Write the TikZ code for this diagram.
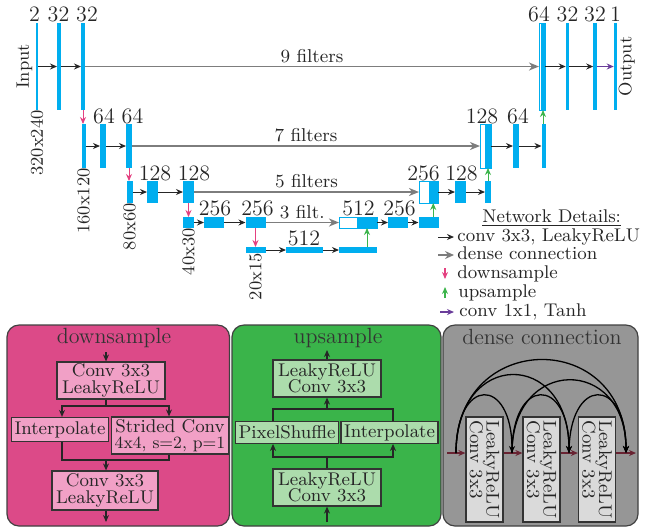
\documentclass[tikz,border=0pt]{standalone}
\usepackage{fontspec}
\usetikzlibrary{arrows.meta,calc}

\definecolor{barblue}{RGB}{0,174,239}
\definecolor{dnpink}{RGB}{228,64,128}
\definecolor{upgreen}{RGB}{60,180,75}
\definecolor{finpurple}{RGB}{106,61,154}
\definecolor{densegray}{RGB}{125,125,125}
\definecolor{dspanel}{RGB}{220,74,136}
\definecolor{dsbox}{RGB}{241,160,198}
\definecolor{uspanel}{RGB}{58,180,74}
\definecolor{usbox}{RGB}{172,220,172}
\definecolor{dcpanel}{RGB}{150,150,150}
\definecolor{dcbox}{RGB}{218,218,218}
\definecolor{dcline}{RGB}{105,35,50}

\newcommand\numfont{\fontsize{11}{13}\selectfont}
\newcommand\filtfont{\fontsize{9.3}{11}\selectfont}
\newcommand\dimfont{\fontsize{9}{11}\selectfont}
\newcommand\legfont{\fontsize{9.2}{11}\selectfont}
\newcommand\titlefont{\fontsize{11}{13}\selectfont}
\newcommand\blkfont{\fontsize{9.2}{8.3}\selectfont\lineskiplimit=-20pt}
\newcommand\smallblk{\fontsize{8.6}{8.3}\selectfont}

\begin{document}
\begin{tikzpicture}[x=0.5pt,y=-0.5pt,
  netbar/.style={fill=barblue,draw=none,inner sep=0pt,outer sep=0pt},
  catbox/.style={draw=barblue,fill=white,line width=0.5pt,inner sep=0pt,outer sep=0pt},
  L1/.style={minimum height=43.5pt},
  L2/.style={minimum height=22pt},
  L3/.style={minimum height=11pt},
  L4/.style={minimum height=5.5pt},
  L5/.style={minimum height=3pt},
  tip/.style={-{Stealth[length=3.5pt,width=3pt]}},
  convarrow/.style={tip,line width=0.5pt,black!85},
  densearrow/.style={-{Stealth[length=5pt,width=4pt,inset=1.5pt]},line width=0.8pt,densegray},
  dnarrow/.style={tip,line width=0.5pt,dnpink},
  uparrow/.style={tip,line width=0.5pt,upgreen},
  finarrow/.style={tip,line width=0.5pt,finpurple},
  numlbl/.style={font=\numfont,inner sep=0pt,anchor=base,text=black!85},
  filt/.style={font=\filtfont,inner sep=1.5pt,above,text=black!85},
  dims/.style={font=\dimfont,rotate=90,anchor=east,inner sep=1pt,text=black!85},
  leg/.style={font=\legfont,anchor=mid west,inner sep=0pt,text=black!85},
  panel/.style={draw=black!75,line width=0.6pt,rounded corners=6pt},
  ptitle/.style={font=\titlefont,text=black!80},
  blk/.style={draw=black!80,line width=0.6pt,font=\blkfont,align=center,
    inner xsep=1.5pt,inner ysep=0.5pt,text=black!85},
  flow/.style={tip,line width=0.6pt,black!85},
  wire/.style={line width=0.6pt,black!85},
  dcwire/.style={tip,line width=0.6pt,dcline},
  arcline/.style={tip,line width=0.65pt,black}
]
\useasboundingbox (0,0) rectangle (647,527);

% ---------------- level 1 (320x240) ----------------
\node[netbar,L1,minimum width=1.2pt] (in) at (37,66.5) {};
\node[netbar,L1,minimum width=2pt] (a1) at (59,66.5) {};
\node[netbar,L1,minimum width=2pt] (a2) at (83,66.5) {};
\node[catbox,L1,minimum width=3pt] (d1) at (542,66.5) {};
\node[netbar,L1,minimum width=2pt,anchor=east] (d1b) at (d1.east) {};
\node[netbar,L1,minimum width=1.75pt] (d2) at (567.5,66.5) {};
\node[netbar,L1,minimum width=1.75pt] (d3) at (595,66.5) {};
\node[netbar,L1,minimum width=1.75pt] (out) at (615.5,66.5) {};

% ---------------- level 2 (160x120) ----------------
\node[netbar,L2,minimum width=2pt] (b0) at (83.5,146) {};
\node[netbar,L2,minimum width=3pt] (b1) at (103,146) {};
\node[netbar,L2,minimum width=3pt] (b2) at (129,146) {};
\node[catbox,L2,minimum width=5.5pt] (c1) at (485.5,146) {};
\node[netbar,L2,minimum width=3pt,anchor=east] (c1b) at (c1.east) {};
\node[netbar,L2,minimum width=3pt] (c2) at (516,146) {};
\node[netbar,L2,minimum width=2pt] (c3) at (543.5,146) {};

% ---------------- level 3 (80x60) ----------------
\node[netbar,L3,minimum width=3pt] (e0) at (129.5,192) {};
\node[netbar,L3,minimum width=5.5pt] (e1) at (152.5,192) {};
\node[netbar,L3,minimum width=5.5pt] (e2) at (188.5,192) {};
\node[catbox,L3,minimum width=9.5pt] (f1) at (428.5,192) {};
\node[netbar,L3,minimum width=4.75pt,anchor=east] (f1b) at (f1.east) {};
\node[netbar,L3,minimum width=5.5pt] (f2) at (460.5,192) {};
\node[netbar,L3,minimum width=3pt] (f3) at (488,192) {};

% ---------------- level 4 (40x30) ----------------
\node[netbar,L4,minimum width=5.5pt] (g0) at (188.5,222.5) {};
\node[netbar,L4,minimum width=10pt] (g1) at (214,222.5) {};
\node[netbar,L4,minimum width=10pt] (g2) at (255.5,222.5) {};
\node[catbox,L4,minimum width=19pt] (h1) at (358,222.5) {};
\node[netbar,L4,minimum width=10pt,anchor=east] (h1b) at (h1.east) {};
\node[netbar,L4,minimum width=10pt] (h2) at (398,222.5) {};
\node[netbar,L4,minimum width=10pt] (h3) at (428.5,222.5) {};

% ---------------- level 5 (20x15) ----------------
\node[netbar,L5,minimum width=10pt] (k0) at (255.5,250) {};
\node[netbar,L5,minimum width=18.5pt] (k1) at (304.5,250) {};
\node[netbar,L5,minimum width=19pt] (k2) at (358,250) {};

% ---------------- channel counts ----------------
\node[numlbl] (n01) at (34.5,21) {2};
\node[numlbl] (n02) at (58.5,21) {32};
\node[numlbl] (n03) at (87,21) {32};
\node[numlbl] (n04) at (539,21) {64};
\node[numlbl] (n05) at (567.5,21) {32};
\node[numlbl] (n06) at (595,21) {32};
\node[numlbl] (n07) at (615.5,21) {1};
\node[numlbl] (n11) at (104,123) {64};
\node[numlbl] (n12) at (132.5,123) {64};
\node[numlbl] (n13) at (482,123) {128};
\node[numlbl] (n14) at (518,123) {64};
\node[numlbl] (n21) at (155,180) {128};
\node[numlbl] (n22) at (194,180) {128};
\node[numlbl] (n23) at (423.5,180) {256};
\node[numlbl] (n24) at (461.5,180) {128};
\node[numlbl] (n31) at (215,215) {256};
\node[numlbl] (n32) at (257.5,215) {256};
\node[numlbl] (n33) at (358.5,215) {512};
\node[numlbl] (n34) at (399.5,215) {256};
\node[numlbl] (n41) at (304,245) {512};

% ---------------- resolutions and ends ----------------
\node[dims] (r1) at ([yshift=1pt]in.south) {320x240};
\node[dims] (r2) at ([yshift=1pt]b0.south) {160x120};
\node[dims] (r3) at ([yshift=1pt]e0.south) {80x60};
\node[dims] (r4) at ([yshift=1pt]g0.south) {40x30};
\node[dims] (r5) at ([yshift=1pt]k0.south) {20x15};
\node[font=\dimfont,rotate=90,anchor=south,inner sep=1.5pt,text=black!85] (inlbl) at (in.west) {Input};
\node[font=\dimfont,rotate=90,anchor=north,inner sep=0.5pt,text=black!85] (outlbl) at (out.east) {Output};

% ---------------- convolutions ----------------
\draw[convarrow] (in.east) -- (a1.west);
\draw[convarrow] (a1.east) -- (a2.west);
\draw[convarrow] (d1.east) -- (d2.west);
\draw[convarrow] (d2.east) -- (d3.west);
\draw[finarrow] (d3.east) -- (out.west);
\draw[convarrow] (b0.east) -- (b1.west);
\draw[convarrow] (b1.east) -- (b2.west);
\draw[convarrow] (c1.east) -- (c2.west);
\draw[convarrow] (c2.east) -- (c3.west);
\draw[convarrow] (e0.east) -- (e1.west);
\draw[convarrow] (e1.east) -- (e2.west);
\draw[convarrow] (f1.east) -- (f2.west);
\draw[convarrow] (f2.east) -- (f3.west);
\draw[convarrow] (g0.east) -- (g1.west);
\draw[convarrow] (g1.east) -- (g2.west);
\draw[convarrow] (h1.east) -- (h2.west);
\draw[convarrow] (h2.east) -- (h3.west);
\draw[convarrow] (k0.east) -- (k1.west);
\draw[convarrow] (k1.east) -- (k2.west);

% ---------------- dense skip connections ----------------
\draw[densearrow] (a2.east) -- node[filt] {9 filters} (d1.west);
\draw[densearrow] (b2.east) -- node[filt] {7 filters} (c1.west);
\draw[densearrow] (e2.east) -- node[filt] {5 filters} (f1.west);
\draw[densearrow] (g2.east) -- node[filt] {3 filt.} (h1.west);

% ---------------- down / up sampling ----------------
\draw[dnarrow] (a2.south) -- (b0.north -| a2.south);
\draw[dnarrow] (b2.south) -- (e0.north -| b2.south);
\draw[dnarrow] (e2.south) -- (g0.north);
\draw[dnarrow] (g2.south) -- (k0.north);
\draw[uparrow] (k2.north -| h1b.south) -- (h1b.south);
\draw[uparrow] (h3.north -| f1b.south) -- (f1b.south);
\draw[uparrow] (f3.north -| c1b.south) -- (c1b.south);
\draw[uparrow] (c3.north -| d1b.south) -- (d1b.south);

% ---------------- legend ----------------
\node[font=\legfont,anchor=base west,inner sep=0pt,text=black!85] (legtitle) at (482,222) {\underline{Network Details:}};
\coordinate (lg1a) at (438,237); \coordinate (lg1b) at (454,237);
\coordinate (lg2a) at (438,255); \coordinate (lg2b) at (454,255);
\coordinate (lg3a) at (445,268); \coordinate (lg3b) at (445,279);
\coordinate (lg4a) at (445,298); \coordinate (lg4b) at (445,287);
\coordinate (lg5a) at (440,312); \coordinate (lg5b) at (454,312);
\draw[convarrow] (lg1a) -- (lg1b);
\draw[densegray,line width=0.8pt,-{Stealth[length=4.5pt,width=4pt,inset=1.5pt]}] (lg2a) -- (lg2b);
\draw[dnarrow,line width=0.7pt] (lg3a) -- (lg3b);
\draw[uparrow,line width=0.7pt] (lg4a) -- (lg4b);
\draw[finarrow,line width=0.7pt] (lg5a) -- (lg5b);
\node[leg] (lt1) at (457,237) {conv 3x3, LeakyReLU};
\node[leg] (lt2) at (457,255) {dense connection};
\node[leg] (lt3) at (457,274) {downsample};
\node[leg] (lt4) at (458,293) {upsample};
\node[leg] (lt5) at (459,312) {conv 1x1, Tanh};

% ---------------- detail panels ----------------
\draw[panel,fill=dspanel] (7,325) rectangle (229.5,526);
\draw[panel,fill=uspanel] (232,325) rectangle (441,526);
\draw[panel,fill=dcpanel] (443,325) rectangle (638,526);
\node[ptitle] (dstitle) at (114,337.5) {downsample};
\node[ptitle] (ustitle) at (338,338) {upsample};
\node[ptitle] (dctitle) at (542,337) {dense connection};

% downsample block
\node[blk,fill=dsbox,minimum width=54pt,minimum height=18.5pt] (ds1) at (111,380.5) {Conv 3x3\\LeakyReLU};
\node[blk,fill=dsbox,minimum width=48pt,minimum height=12pt] (dsI) at (60,429.5) {Interpolate};
\node[blk,fill=dsbox,minimum width=56pt,minimum height=18.5pt] (dsS) at (170,435.5) {Strided Conv\\{\smallblk 4x4, s=2, p=1}};
\node[blk,fill=dsbox,minimum width=53pt,minimum height=19.5pt] (ds2) at (105,490.5) {Conv 3x3\\LeakyReLU};
\coordinate (dsin) at (106,352);
\coordinate (dsfork) at (106,406);
\coordinate (dsjoin) at (106,460);
\coordinate (dsout) at (106,522);
\coordinate (dsL) at (62,0);
\coordinate (dsR) at (169,0);
\draw[flow] (dsin) -- (dsin |- ds1.north);
\draw[wire] (ds1.south -| dsin) -- (dsfork);
\draw[flow] (dsfork) -| (dsI.north -| dsL);
\draw[flow] (dsfork) -| (dsS.north -| dsR);
\draw[wire] (dsI.south -| dsL) |- (dsjoin);
\draw[wire] (dsS.south -| dsR) |- (dsjoin);
\draw[flow] (dsjoin) -- (dsjoin |- ds2.north);
\draw[flow] (ds2.south -| dsout) -- (dsout);

% upsample block
\node[blk,fill=usbox,minimum width=54pt,minimum height=18.5pt] (us1) at (327,378.5) {LeakyReLU\\Conv 3x3};
\node[blk,fill=usbox,minimum width=50pt,minimum height=10.8pt] (usP) at (287,432.5) {PixelShuffle};
\node[blk,fill=usbox,minimum width=47.5pt,minimum height=10.8pt] (usI) at (389.5,432.5) {Interpolate};
\node[blk,fill=usbox,minimum width=54pt,minimum height=18.5pt] (us2) at (327,487.5) {LeakyReLU\\Conv 3x3};
\coordinate (usin) at (327,522);
\coordinate (usfork) at (327,457);
\coordinate (usjoin) at (327,409);
\coordinate (usout) at (327,350);
\coordinate (usL) at (273,0);
\coordinate (usR) at (393,0);
\draw[flow] (usin) -- (us2.south);
\draw[wire] (us2.north) -- (usfork);
\draw[flow] (usfork) -| (usP.south -| usL);
\draw[flow] (usfork) -| (usI.south -| usR);
\draw[wire] (usP.north -| usL) |- (usjoin);
\draw[wire] (usI.north -| usR) |- (usjoin);
\draw[flow] (usjoin) -- (us1.south);
\draw[flow] (us1.north) -- (usout);

% dense connection block (boxes turned clockwise: local south is the left side)
\node[blk,fill=dcbox,rotate=-90,align=left,minimum width=52.5pt,minimum height=18.5pt] (dc1) at (484.5,469.5) {LeakyReLU\\Conv 3x3};
\node[blk,fill=dcbox,rotate=-90,align=left,minimum width=52.5pt,minimum height=18.5pt] (dc2) at (541.5,469.5) {LeakyReLU\\Conv 3x3};
\node[blk,fill=dcbox,rotate=-90,align=left,minimum width=52.5pt,minimum height=18.5pt] (dc3) at (597,469.5) {LeakyReLU\\Conv 3x3};
\coordinate (dcin) at (447,453);
\coordinate (dcend) at (636,453);
\coordinate (j0) at (456,453);
\coordinate (j1) at (512,453);
\coordinate (j2) at (569,453);
\coordinate (j3) at (626,453);
\draw[dcwire] (dcin) -- (dcin -| dc1.south);
\draw[dcwire] (dc1.north |- j1) -- (dc2.south |- j1);
\draw[dcwire] (dc2.north |- j2) -- (dc3.south |- j2);
\draw[dcwire] (dc3.north |- j3) -- (dcend);
\draw[arcline] (j0) .. controls ($(j0)+(0,-77)$) and ($(j1)+(0,-77)$) .. (j1);
\draw[arcline] (j1) .. controls ($(j1)+(0,-77)$) and ($(j2)+(0,-77)$) .. (j2);
\draw[arcline] (j2) .. controls ($(j2)+(0,-77)$) and ($(j3)+(0,-77)$) .. (j3);
\draw[arcline] (j0) .. controls ($(j0)+(0,-104)$) and ($(j2)+(0,-104)$) .. (j2);
\draw[arcline] (j1) .. controls ($(j1)+(0,-97)$) and ($(j3)+(0,-97)$) .. (j3);
\draw[arcline] (j0) .. controls ($(j0)+(0,-124)$) and ($(j3)+(0,-124)$) .. (j3);
\end{tikzpicture}
\end{document}
